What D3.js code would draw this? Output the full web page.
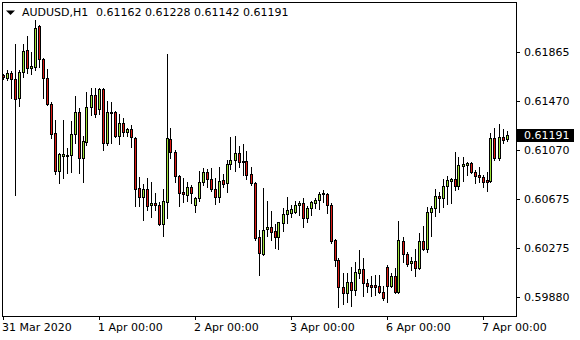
<!DOCTYPE html>
<html>
<head>
<meta charset="utf-8">
<script src="https://cdn.jsdelivr.net/npm/d3@7"></script>
<style>
  body { margin: 0; background: #fff; }
  text { font-family: "DejaVu Sans", sans-serif; font-size: 11px; fill: #000; }
</style>
</head>
<body>
<div id="chart"></div>
<script>
// AUDUSD H1 bars, 31 Mar 2020 00:00 .. 7 Apr 2020 06:00
const opens = [
  0.61679, 0.61654, 0.61695, 0.61646, 0.61492, 0.61703, 0.61881, 0.61735, 0.61744, 0.62076,
  0.61808, 0.61654, 0.61444, 0.61209, 0.60901, 0.61023, 0.61031, 0.61031, 0.61201, 0.61379,
  0.61006, 0.61136, 0.61420, 0.61517, 0.61403, 0.61565, 0.61128, 0.61379, 0.61379, 0.61185,
  0.61290, 0.61217, 0.61241, 0.61168, 0.60763, 0.60691, 0.60755, 0.60626, 0.60642, 0.60626,
  0.60472, 0.60650, 0.61160, 0.61055, 0.60861, 0.60731, 0.60707, 0.60772, 0.60626, 0.60682,
  0.60812, 0.60893, 0.60836, 0.60755, 0.60691, 0.60828, 0.60804, 0.60958, 0.60990, 0.61047,
  0.60982, 0.60982, 0.60877, 0.60804, 0.60367, 0.60229, 0.60431, 0.60448, 0.60415, 0.60367,
  0.60480, 0.60553, 0.60561, 0.60569, 0.60626, 0.60642, 0.60520, 0.60601, 0.60642, 0.60666,
  0.60715, 0.60715, 0.60626, 0.60342, 0.60180, 0.59962, 0.59913, 0.60002, 0.59937, 0.60075,
  0.60107, 0.59994, 0.59978, 0.59978, 0.59970, 0.59921, 0.60124, 0.59970, 0.60051, 0.59921,
  0.60334, 0.60229, 0.60156, 0.60172, 0.60115, 0.60334, 0.60269, 0.60569, 0.60601, 0.60699,
  0.60682, 0.60780, 0.60820, 0.60836, 0.60780, 0.60942, 0.60950, 0.60966, 0.60893, 0.60869,
  0.60853, 0.60828, 0.60820, 0.61168, 0.61006, 0.61177, 0.61162
]
const highs = [
  0.61687, 0.61719, 0.61711, 0.61930, 0.61719, 0.61930, 0.61995, 0.61865, 0.62124, 0.62084,
  0.61816, 0.61727, 0.61460, 0.61314, 0.61047, 0.61314, 0.61087, 0.61306, 0.61509, 0.61411,
  0.61185, 0.61541, 0.61573, 0.61573, 0.61573, 0.61570, 0.61468, 0.61460, 0.61385, 0.61363,
  0.61330, 0.61249, 0.61274, 0.61177, 0.60853, 0.60796, 0.60844, 0.60812, 0.60723, 0.60650,
  0.60755, 0.61849, 0.61249, 0.61071, 0.60869, 0.60844, 0.60812, 0.60788, 0.60691, 0.60901,
  0.60925, 0.60917, 0.60925, 0.60844, 0.60934, 0.60877, 0.60990, 0.61177, 0.61185, 0.61104,
  0.61120, 0.61063, 0.60934, 0.60810, 0.60423, 0.60763, 0.60658, 0.60577, 0.60472, 0.60490,
  0.60601, 0.60691, 0.60626, 0.60658, 0.60658, 0.60682, 0.60618, 0.60658, 0.60682, 0.60731,
  0.60747, 0.60723, 0.60642, 0.60350, 0.60196, 0.60075, 0.60075, 0.60124, 0.60164, 0.60261,
  0.60196, 0.60026, 0.60051, 0.60059, 0.60059, 0.59970, 0.60140, 0.60075, 0.60115, 0.60496,
  0.60367, 0.60245, 0.60205, 0.60269, 0.60399, 0.60456, 0.60610, 0.60618, 0.60755, 0.60731,
  0.60836, 0.60861, 0.60844, 0.61055, 0.61015, 0.61015, 0.60970, 0.60974, 0.60909, 0.60934,
  0.60869, 0.60893, 0.61209, 0.61249, 0.61282, 0.61241, 0.61228
]
const lows = [
  0.61646, 0.61638, 0.61492, 0.60707, 0.61428, 0.61663, 0.61695, 0.61687, 0.61719, 0.61744,
  0.61492, 0.61436, 0.61168, 0.60877, 0.60804, 0.60844, 0.60885, 0.60893, 0.61128, 0.60885,
  0.60812, 0.61112, 0.61355, 0.61339, 0.61363, 0.61071, 0.61112, 0.61128, 0.61177, 0.61120,
  0.61185, 0.61185, 0.61096, 0.60618, 0.60618, 0.60504, 0.60585, 0.60529, 0.60585, 0.60465,
  0.60375, 0.60520, 0.61006, 0.60812, 0.60618, 0.60650, 0.60658, 0.60642, 0.60569, 0.60658,
  0.60788, 0.60772, 0.60739, 0.60634, 0.60650, 0.60772, 0.60731, 0.60917, 0.60901, 0.60934,
  0.60869, 0.60836, 0.60788, 0.60342, 0.60059, 0.60221, 0.60375, 0.60342, 0.60277, 0.60269,
  0.60415, 0.60480, 0.60529, 0.60561, 0.60545, 0.60448, 0.60488, 0.60545, 0.60601, 0.60593,
  0.60650, 0.60561, 0.60318, 0.60132, 0.59800, 0.59824, 0.59840, 0.59808, 0.59897, 0.60034,
  0.59889, 0.59921, 0.59889, 0.59897, 0.59913, 0.59856, 0.59840, 0.59962, 0.59913, 0.59913,
  0.60164, 0.60132, 0.60099, 0.60051, 0.60107, 0.60261, 0.60245, 0.60375, 0.60537, 0.60569,
  0.60610, 0.60634, 0.60642, 0.60747, 0.60755, 0.60820, 0.60869, 0.60885, 0.60804, 0.60812,
  0.60772, 0.60739, 0.60812, 0.60990, 0.60990, 0.61128, 0.61142
]
const closes = [
  0.61663, 0.61695, 0.61646, 0.61484, 0.61703, 0.61873, 0.61735, 0.61752, 0.62059, 0.61808,
  0.61654, 0.61444, 0.61201, 0.60901, 0.61039, 0.61039, 0.61023, 0.61201, 0.61379, 0.61006,
  0.61144, 0.61420, 0.61517, 0.61363, 0.61565, 0.61128, 0.61379, 0.61371, 0.61185, 0.61290,
  0.61217, 0.61241, 0.61177, 0.60755, 0.60691, 0.60755, 0.60618, 0.60642, 0.60626, 0.60472,
  0.60658, 0.61168, 0.61055, 0.60861, 0.60723, 0.60715, 0.60772, 0.60723, 0.60682, 0.60812,
  0.60893, 0.60836, 0.60755, 0.60691, 0.60820, 0.60796, 0.60958, 0.60990, 0.61047, 0.60974,
  0.60974, 0.60869, 0.60804, 0.60358, 0.60237, 0.60423, 0.60448, 0.60407, 0.60367, 0.60488,
  0.60553, 0.60585, 0.60593, 0.60626, 0.60642, 0.60520, 0.60601, 0.60650, 0.60666, 0.60715,
  0.60723, 0.60626, 0.60334, 0.60180, 0.59962, 0.59913, 0.60002, 0.59937, 0.60083, 0.60107,
  0.59994, 0.59970, 0.59962, 0.59962, 0.59921, 0.59872, 0.59970, 0.60051, 0.59921, 0.60342,
  0.60229, 0.60148, 0.60172, 0.60115, 0.60334, 0.60269, 0.60569, 0.60601, 0.60699, 0.60682,
  0.60780, 0.60828, 0.60836, 0.60780, 0.60950, 0.60958, 0.60966, 0.60893, 0.60861, 0.60853,
  0.60812, 0.60812, 0.61168, 0.61006, 0.61177, 0.61152, 0.61191
]

// time axis: bar index where each label sits
const dayIndex = [0, 24, 48, 72, 96, 120]
const dayLabels = ['31 Mar 2020', '1 Apr 00:00', '2 Apr 00:00', '3 Apr 00:00', '6 Apr 00:00', '7 Apr 00:00']

const priceTicks = [0.61865, 0.61470, 0.61070, 0.60675, 0.60275, 0.59880]

const symbol = 'AUDUSD,H1'
const lastBar = [0.61162, 0.61228, 0.61142, 0.61191]

const W = 580
const H = 340
const BULL = '#9be236'
const BEAR = '#dc1a14'

const bars = opens.map((o, i) => ({ i, o, h: highs[i], l: lows[i], c: closes[i] }))

const svg = d3.select('#chart')
  .append('svg')
  .attr('width', W)
  .attr('height', H)
  .attr('shape-rendering', 'crispEdges')

const x = d3.scaleLinear().domain([0, 120]).range([3, 483])
const y = d3.scaleLinear().domain([0.59880, 0.61865]).range([297, 52])

const col = i => Math.floor(x(i))
const row = v => Math.round(y(v))

// frame
svg.append('rect')
  .attr('x', 2.5).attr('y', 2.5)
  .attr('width', 514).attr('height', 314)
  .attr('fill', 'none').attr('stroke', '#000')

// wicks
svg.selectAll('rect.wick')
  .data(bars)
  .enter()
  .append('rect')
  .attr('class', 'wick')
  .attr('x', d => col(d.i))
  .attr('width', 1)
  .attr('y', d => row(d.h))
  .attr('height', d => row(d.l) - row(d.h) + 1)
  .attr('fill', '#000')

// bodies (black outline, 1px colour core)
const bodyTop = d => row(Math.max(d.o, d.c))
const bodyBot = d => row(Math.min(d.o, d.c))

svg.selectAll('rect.body')
  .data(bars)
  .enter()
  .append('rect')
  .attr('class', 'body')
  .attr('x', d => col(d.i) - 1)
  .attr('width', 3)
  .attr('y', bodyTop)
  .attr('height', d => Math.max(2, bodyBot(d) - bodyTop(d) + 1))
  .attr('fill', '#000')

svg.selectAll('rect.core')
  .data(bars.filter(d => bodyBot(d) - bodyTop(d) > 1))
  .enter()
  .append('rect')
  .attr('class', 'core')
  .attr('x', d => col(d.i))
  .attr('width', 1)
  .attr('y', d => bodyTop(d) + 1)
  .attr('height', d => bodyBot(d) - bodyTop(d) - 1)
  .attr('fill', d => d.c >= d.o ? BULL : BEAR)

// price axis
const py = svg.append('g')
py.selectAll('rect')
  .data(priceTicks)
  .enter()
  .append('rect')
  .attr('x', 517).attr('width', 3)
  .attr('y', d => row(d)).attr('height', 1)
  .attr('fill', '#000')
py.selectAll('text')
  .data(priceTicks)
  .enter()
  .append('text')
  .attr('x', 524)
  .attr('y', d => row(d) + 4)
  .text(d => d.toFixed(5))

// current price tag
const last = closes[closes.length - 1]
svg.append('rect')
  .attr('x', 517).attr('y', row(last) - 6)
  .attr('width', 57).attr('height', 13)
  .attr('fill', '#000')
svg.append('text')
  .attr('x', 524).attr('y', row(last) + 4)
  .style('fill', '#fff')
  .text(last.toFixed(5))

// time axis
const tx = svg.append('g')
tx.selectAll('rect')
  .data(dayIndex)
  .enter()
  .append('rect')
  .attr('x', d => col(d)).attr('width', 1)
  .attr('y', 317).attr('height', 3)
  .attr('fill', '#000')
tx.selectAll('text')
  .data(dayIndex)
  .enter()
  .append('text')
  .attr('x', d => col(d) - 1)
  .attr('y', 331)
  .text((d, k) => dayLabels[k])

// title
svg.append('path')
  .attr('d', 'M6,10.5 L15,10.5 L10.5,15 Z')
  .attr('fill', '#000')
  .attr('shape-rendering', 'auto')
svg.append('text').attr('x', 22).attr('y', 16).text(symbol)
svg.append('text').attr('x', 96).attr('y', 16)
  .text(lastBar.map(v => v.toFixed(5)).join(' '))
</script>
</body>
</html>
